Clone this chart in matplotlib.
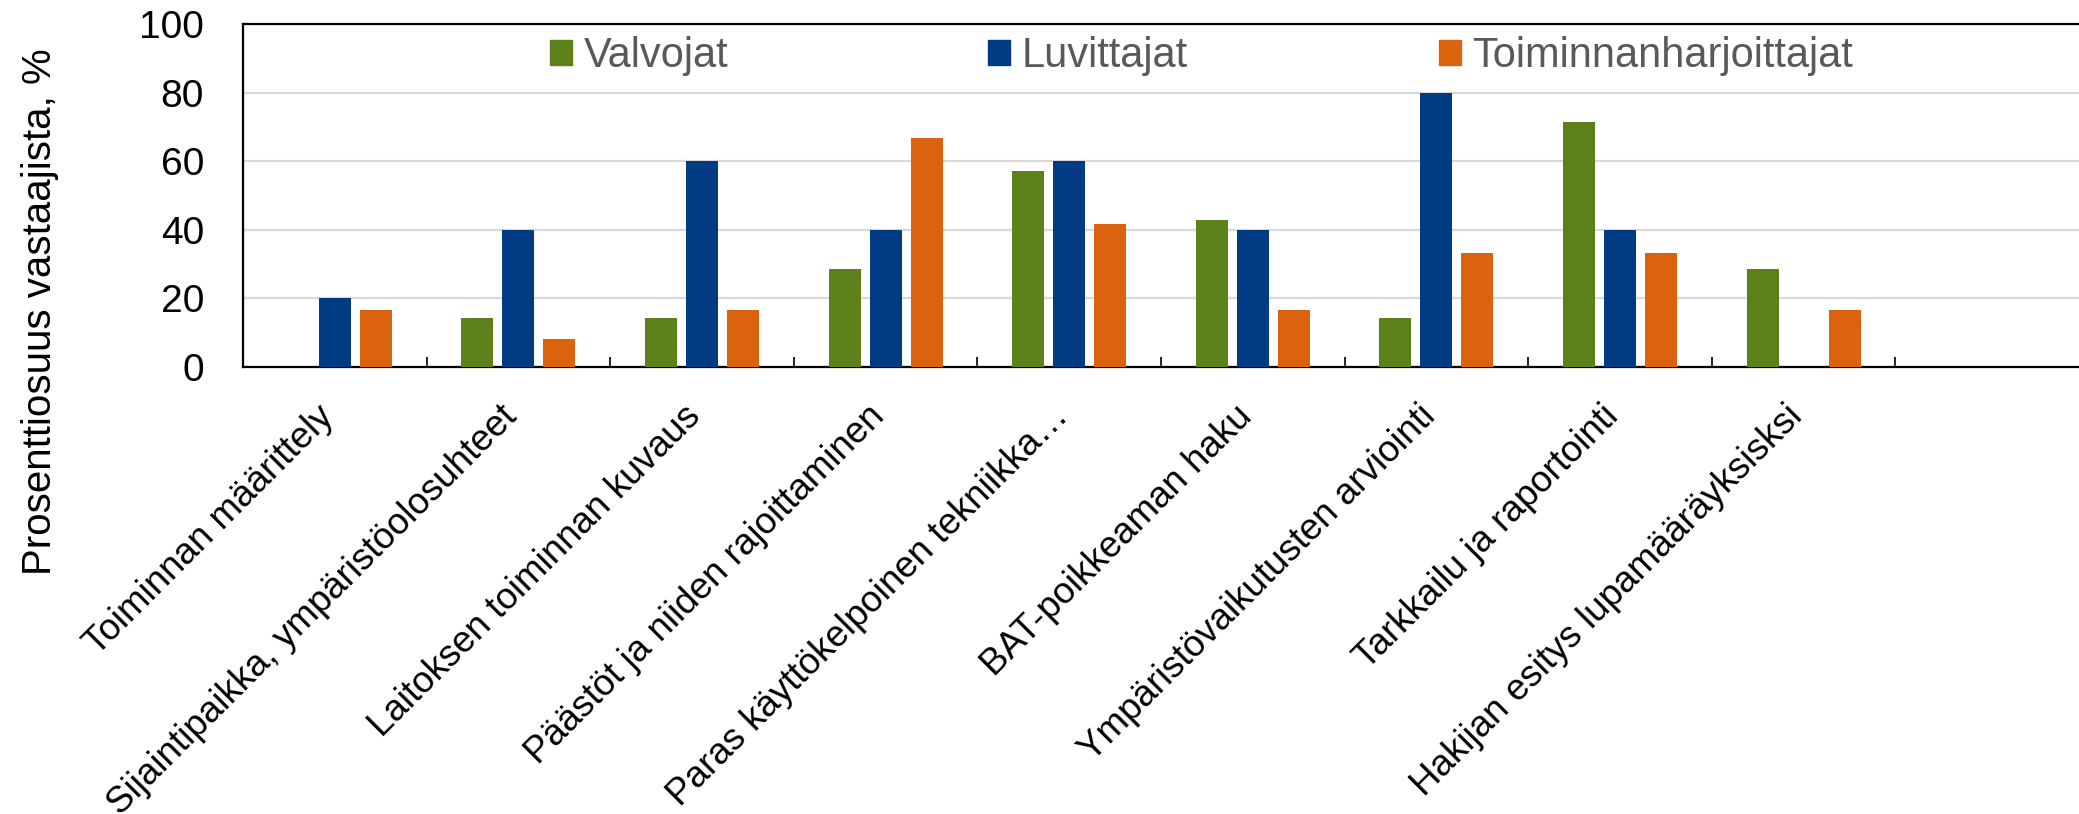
import matplotlib
matplotlib.use("Agg")
import matplotlib.pyplot as plt
import matplotlib.transforms as mtransforms
from matplotlib.patches import Patch
import numpy as np

plt.rcParams['font.family'] = ['Liberation Sans', 'DejaVu Sans']

# Kategoriat (viimeinen paikka on tyhjä kuten alkuperäisessä)
kategoriat = ["Toiminnan määrittely",
              "Sijaintipaikka, ympäristöolosuhteet",
              "Laitoksen toiminnan kuvaus",
              "Päästöt ja niiden rajoittaminen",
              "Paras käyttökelpoinen tekniikka…",
              "BAT-poikkeaman haku",
              "Ympäristövaikutusten arviointi",
              "Tarkkailu ja raportointi",
              "Hakijan esitys lupamääräyksisksi",
              ""]

valvojat = [0, 14.3, 14.3, 28.6, 57.1, 42.9, 14.3, 71.4, 28.6, 0]
luvittajat = [20, 40, 60, 40, 60, 40, 80, 40, 0, 0]
toiminnanharjoittajat = [16.7, 8.3, 16.7, 66.7, 41.7, 16.7, 33.3, 33.3, 16.7, 0]

sarjat = ["Valvojat", "Luvittajat", "Toiminnanharjoittajat"]
varit = ["#5C8119", "#003B84", "#DB630D"]

W, H = 2079, 814
fig = plt.figure(figsize=(W / 100, H / 100), dpi=100)
ax = fig.add_axes([243 / W, 1 - 367 / H, 1 - 243 / W, (367 - 24) / H])

x = np.arange(len(kategoriat))
leveys = 0.174
vali = 0.223
for i, (arvot, nimi, vari) in enumerate(zip([valvojat, luvittajat, toiminnanharjoittajat], sarjat, varit)):
    ax.bar(x + (i - 1) * vali, arvot, leveys, color=vari, label=nimi, zorder=3)

ax.set_xlim(-0.5, len(kategoriat) - 0.5)
ax.set_ylim(0, 100)
ax.set_yticks([0, 20, 40, 60, 80, 100])
ax.tick_params(axis='y', length=0, pad=28, labelsize=28)
ax.yaxis.grid(True, color='#D9D9D9', linewidth=1.6, zorder=0)
ax.set_axisbelow(True)

ax.set_xticks(x)
ax.set_xticklabels(kategoriat, rotation=45, ha='right', fontsize=26.5)
ax.tick_params(axis='x', which='major', length=0, pad=23)
siirto = mtransforms.ScaledTranslation(6 / 100, 0, fig.dpi_scale_trans)
for lab in ax.get_xticklabels():
    lab.set_transform(lab.get_transform() + siirto)
ax.set_xticks(np.arange(-0.5, len(kategoriat) - 1, 1.0), minor=True)
ax.tick_params(axis='x', which='minor', direction='in', length=7, width=1.2, color='black')

for s in ['left', 'bottom', 'top']:
    ax.spines[s].set_linewidth(1.6)
    ax.spines[s].set_color('black')
ax.spines['right'].set_visible(False)

fig.text(40 / W, 1 - 312 / H, "Prosenttiosuus vastaajista, %", rotation=90,
         ha='center', va='center', fontsize=29)

# Selitteet omille paikoilleen kuten alkuperäisessä
selite_x = [550, 988, 1439]
for nimi, vari, sx in zip(sarjat, varit, selite_x):
    leg = fig.legend(handles=[Patch(color=vari, label=nimi)], loc='center left',
                     bbox_to_anchor=(sx / W, 1 - 56 / H), frameon=False, fontsize=30,
                     handlelength=0.53, handleheight=0.53, handletextpad=0.27,
                     borderpad=0, borderaxespad=0)
    for t in leg.get_texts():
        t.set_color('#595959')

fig.savefig("out.png", dpi=100)
